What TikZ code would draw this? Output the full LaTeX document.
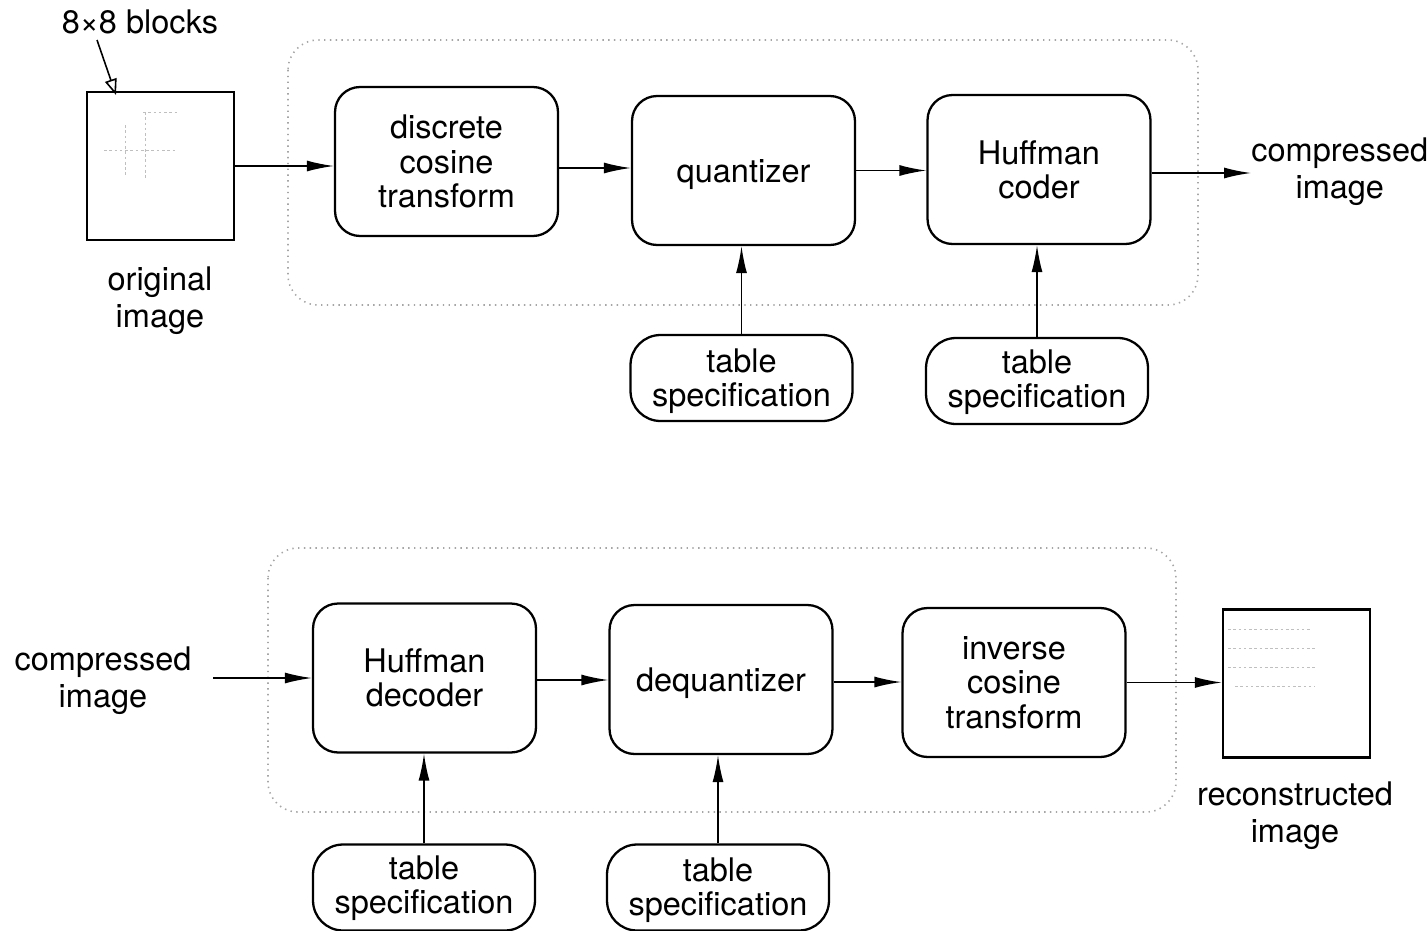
\documentclass[tikz,border=0pt]{standalone}
\usepackage{fontspec}
\setmainfont{TeX Gyre Heros}
\usetikzlibrary{arrows.meta,calc}
\newcommand\lowtxt[2]{\raisebox{#1}[\height][\depth]{\begin{tabular}{@{}c@{}}#2\end{tabular}}}
\begin{document}
\begin{tikzpicture}[x=0.02cm,y=-0.02cm,
  every node/.style={font=\fontsize{18.5}{19.5}\selectfont, align=center, inner sep=0pt},
  proc/.style={draw, line width=1.3pt, rounded corners=0.5cm, minimum width=4.46cm, minimum height=2.98cm},
  tbl/.style={draw, line width=1.3pt, rounded corners=0.6cm, minimum width=4.44cm, minimum height=1.72cm},
  img/.style={draw, line width=1.4pt, minimum width=2.94cm, minimum height=2.96cm},
  lbl/.style={font=\fontsize{18.5}{21}\selectfont},
  flow/.style={line width=0.9pt, -{Latex[length=0.54cm,width=0.22cm]}},
  openflow/.style={line width=0.9pt, -{Triangle[open,length=0.32cm,width=0.24cm]}},
  encl/.style={draw=black!35, line width=0.9pt, dash pattern=on 0.8pt off 2.5pt, rounded corners=0.6cm},
  faint/.style={draw=black!25, line width=0.5pt, dash pattern=on 1.5pt off 1.5pt}]
\useasboundingbox (0,0) rectangle (1427,930);

% enclosures
\draw[encl] (288,40) rectangle (1198,305);
\draw[encl] (268,548) rectangle (1176,812);

% ---------- top row ----------
\node[img] (orig) at (160.5,166) {};
\draw[faint] (143,112) -- (177,112);
\draw[faint] (125,125) -- (125,175);
\draw[faint] (145,112) -- (145,178);
\draw[faint] (104,150) -- (175,150);
\node (blk) at (140,22) {8×8 blocks};
\coordinate (blktail) at (97,40);
\coordinate (blktip) at (116,95);
\draw[openflow] (blktail) -- (blktip);
\node[lbl] (origlbl) at (160,301) {original\\image};

\node[proc] (dct) at (446.5,161.5) {discrete\\cosine\\transform};
\node[proc] (q) at (743.5,170.5) {\lowtxt{-0.1cm}{quantizer}};
\node[proc] (huff) at (1039,169.5) {Huffman\\coder};
\node[lbl,anchor=west] (cout) at (1251,172) {compressed\\image};

\node[tbl] (t1) at (741.5,378) {\lowtxt{-0.09cm}{table\\specification}};
\node[tbl] (t2) at (1037,381) {\lowtxt{-0.06cm}{table\\specification}};

\draw[flow] (orig.east) -- (orig.east -| dct.west);
\draw[flow] (dct.east |- 0,168) -- (q.west |- 0,168);
\draw[flow] (q.east) -- (q.east -| huff.west);
\draw[flow] (huff.east |- 0,173) -- (cout.west |- 0,173);
\draw[flow] (t1.north) -- (t1.north |- q.south);
\draw[flow] (t2.north) -- (t2.north |- huff.south);

% ---------- bottom row ----------
\node[lbl] (cin) at (103,681) {compressed\\image};
\coordinate (cintail) at (213,678);
\node[proc] (hd) at (424.5,678) {Huffman\\decoder};
\node[proc] (deq) at (721,679.5) {\lowtxt{-0.1cm}{dequantizer}};
\node[proc] (inv) at (1014,682.5) {inverse\\cosine\\transform};
\node[img] (rec) at (1296.5,683.5) {};
\draw[faint] (1228,629) -- (1310,629);
\draw[faint] (1228,648) -- (1315,648);
\draw[faint] (1228,667) -- (1315,667);
\draw[faint] (1235,686) -- (1315,686);
\node[lbl] (reclbl) at (1295,816) {reconstructed\\image};

\node[tbl] (t3) at (424,887.5) {\lowtxt{-0.05cm}{table\\specification}};
\node[tbl] (t4) at (718,887.5) {\lowtxt{-0.08cm}{table\\specification}};

\draw[flow] (cintail) -- (cintail -| hd.west);
\draw[flow] (hd.east |- 0,680) -- (deq.west |- 0,680);
\draw[flow] (deq.east |- 0,682) -- (inv.west |- 0,682);
\draw[flow] (inv.east) -- (inv.east -| rec.west);
\draw[flow] (t3.north) -- (t3.north |- hd.south);
\draw[flow] (t4.north) -- (t4.north |- deq.south);
\end{tikzpicture}
\end{document}
